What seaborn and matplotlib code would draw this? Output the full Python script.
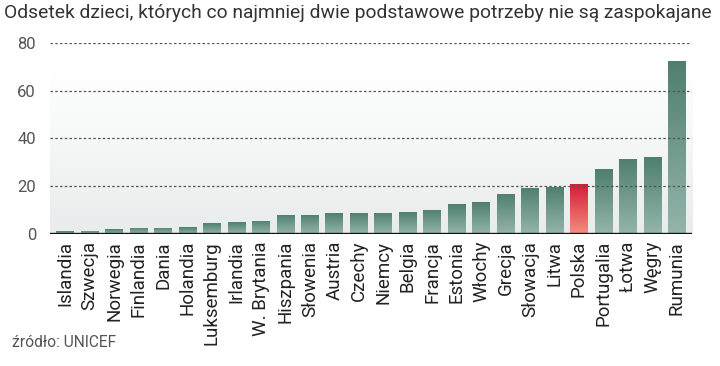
"""
Odsetek dzieci bez zaspokojonych podstawowych potrzeb - bar chart (UNICEF).
"""

import matplotlib
matplotlib.use("Agg")
import matplotlib.pyplot as plt
from matplotlib.colors import LinearSegmentedColormap
import numpy as np
import pandas as pd
import seaborn as sns

countries = ["Islandia", "Szwecja", "Norwegia", "Finlandia", "Dania", "Holandia",
             "Luksemburg", "Irlandia", "W. Brytania", "Hiszpania", "Słowenia",
             "Austria", "Czechy", "Niemcy", "Belgia", "Francja", "Estonia",
             "Włochy", "Grecja", "Słowacja", "Litwa", "Polska", "Portugalia",
             "Łotwa", "Węgry", "Rumunia"]
values = [1.2, 1.3, 2.0, 2.7, 2.7, 2.9, 4.5, 4.9, 5.6, 8.1, 8.1, 8.7, 8.7,
          8.8, 9.2, 10.2, 12.4, 13.4, 16.9, 19.3, 19.8, 20.9, 27.1, 31.5,
          32.1, 72.4]
highlight = "Polska"
y_ticks = [0, 20, 40, 60, 80]

title = "Odsetek dzieci, których co najmniej dwie podstawowe potrzeby nie są zaspokajane"
source = "źródło: UNICEF"

df = pd.DataFrame({"kraj": countries, "wartosc": values})

sns.set_style("white")
plt.rcParams["font.family"] = ["Roboto", "DejaVu Sans"]

fig = plt.figure(figsize=(7.2, 3.66), dpi=100)
ax = fig.add_axes([0.0694, 0.3607, 0.8917, 0.5218])

sns.barplot(data=df, x="kraj", y="wartosc", ax=ax, width=0.72,
            color="#5f8f80", saturation=1, zorder=2)

xlim = (-0.62, len(countries) - 0.38)
ax.set_xlim(xlim)
ax.set_ylim(0, 80)

# soft background gradient behind the bars
bg = np.linspace(0, 1, 256).reshape(-1, 1)
bg_cmap = LinearSegmentedColormap.from_list("bg", ["#ffffff", "#e9ecec"])
ax.imshow(bg, cmap=bg_cmap, aspect="auto", origin="upper",
          extent=[xlim[0], xlim[1], 0, 68], zorder=0)

# vertical gradient inside each bar
green = LinearSegmentedColormap.from_list("g", ["#4f7f6e", "#94b5ab"])
red = LinearSegmentedColormap.from_list("r", ["#d41b3b", "#f2907e"])
grad = np.linspace(0, 1, 256).reshape(-1, 1)
for patch, name in zip(ax.patches, countries):
    x0, y0 = patch.get_x(), patch.get_y()
    w, h = patch.get_width(), patch.get_height()
    cmap = red if name == highlight else green
    im = ax.imshow(grad, cmap=cmap, aspect="auto", origin="upper",
                   extent=[x0, x0 + w, y0, y0 + h], zorder=2)
    im.set_clip_path(patch)
    patch.set_facecolor("none")
    patch.set_edgecolor("none")

ax.set_xlim(xlim)
ax.set_ylim(0, 80)

# dotted grid lines on top of the bars
for t in y_ticks[1:]:
    ax.axhline(t, color="#555555", linestyle=(0, (2.0, 1.8)), linewidth=0.9, zorder=3)
ax.axhline(0, color="#111111", linewidth=2.4, zorder=4)

for s in ax.spines.values():
    s.set_visible(False)

ax.set_yticks(y_ticks)
ax.set_yticklabels([str(t) for t in y_ticks], fontsize=12, color="#555555")
ax.tick_params(axis="y", length=0, pad=10)
ax.tick_params(axis="x", length=0, pad=5)
ax.set_xticks(range(len(countries)))
ax.set_xticklabels(countries, rotation=90, fontsize=13.5, color="#222222")
ax.set_xlabel("")
ax.set_ylabel("")

fig.text(0.006, 0.965, title, fontsize=13.9, color="#333333", va="center", ha="left")
fig.text(0.016, 0.063, source, fontsize=11.2, color="#555555", va="center", ha="left")

fig.savefig("out.png", dpi=100)
